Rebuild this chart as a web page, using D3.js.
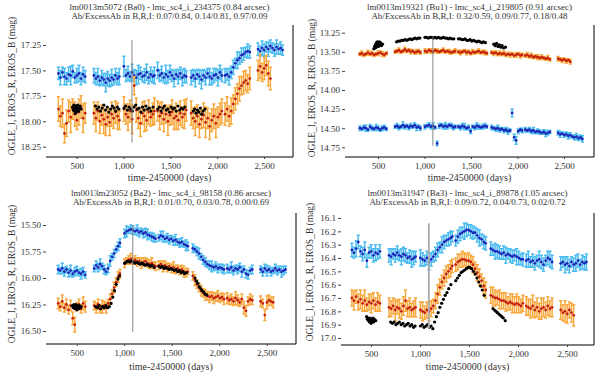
<!DOCTYPE html>
<html><head><meta charset="utf-8">
<script src="https://cdn.jsdelivr.net/npm/d3@7"></script>
<style>body{margin:0;background:#fff}svg{display:block}text{font-family:"Liberation Serif","Times New Roman",serif}</style>
</head><body><svg id="c" width="600" height="375"></svg>
<script>
// ---------- DATA ----------
const eventTime = 1090;
const erosTime = [
305,326,348,370,392,414,436,458,480,502,524,546,568,590,
684,705,726,747,768,789,810,831,852,873,894,915,936,955,
1004,1026,1048,1070,1092,1114,1136,1158,1180,1202,1224,1246,1268,1290,1312,1330,
1364,1386,1408,1430,1452,1474,1496,1518,1540,1562,1584,1606,1628,1650,1670,
1722,1744,1766,1788,1810,1832,1854,1876,1898,1920,1942,1964,1986,2008,2030,2050,
2084,2106,2128,2150,2172,2194,2216,2238,2260,2282,2304,2326,2348,
2436,2458,2480,2502,2524,2546,2568,2590,2612,2634,2656,2678,2698];
const ogleTime = [
455,463,470,476,481,485,489,493,497,501,505,509,514,520,527,536,548,
700,718,736,754,772,790,808,826,844,862,880,898,916,934,950,
1005,1023,1041,1059,1077,1095,1113,1131,1149,1167,1185,1203,1221,1239,1257,1275,1293,1315,
1365,1383,1401,1419,1437,1455,1473,1491,1509,1527,1545,1563,1581,1599,1617,1635,1655,
1745,1760,1775,1790,1805,1820,1835,1850,1870];

// Panel 1: lm0013m5072
const p1B = [
17.53,17.57,17.52,17.56,17.58,17.54,17.55,17.51,17.57,17.55,17.53,17.58,17.54,17.56,
17.55,17.58,17.56,17.60,17.57,17.59,17.62,17.58,17.60,17.57,17.59,17.55,17.58,17.56,
17.46,17.55,17.53,17.56,17.52,17.55,17.57,17.54,17.53,17.56,17.55,17.52,17.57,17.54,17.56,17.55,
17.50,17.55,17.53,17.57,17.54,17.56,17.52,17.55,17.58,17.54,17.56,17.53,17.57,17.55,17.56,
17.57,17.55,17.58,17.54,17.56,17.59,17.55,17.57,17.53,17.56,17.58,17.55,17.54,17.57,17.52,17.55,
17.55,17.54,17.56,17.52,17.47,17.43,17.40,17.38,17.35,17.34,17.32,17.31,17.32,
17.29,17.31,17.28,17.30,17.27,17.29,17.26,17.28,17.30,17.27,17.29,17.28,17.30];
const p1Berr = [
.06,.07,.05,.08,.06,.07,.09,.06,.05,.07,.08,.06,.07,.06,
.07,.06,.08,.05,.07,.06,.09,.07,.06,.08,.05,.07,.06,.08,
.10,.06,.07,.05,.08,.06,.07,.09,.06,.05,.07,.08,.06,.07,.06,.08,
.08,.06,.07,.05,.09,.06,.07,.06,.08,.05,.07,.06,.08,.07,.06,
.07,.06,.08,.05,.07,.09,.06,.07,.05,.08,.06,.07,.06,.08,.07,.06,
.07,.06,.08,.06,.07,.05,.08,.06,.07,.06,.05,.07,.06,
.06,.05,.07,.06,.05,.07,.06,.05,.06,.07,.05,.06,.05];
const p1R = [
17.88,17.95,17.92,18.12,18.02,17.90,17.96,17.88,17.93,17.99,17.91,17.86,17.97,17.92,
17.92,17.97,17.90,18.00,17.94,17.98,18.03,17.96,18.01,17.93,17.97,17.91,17.95,17.99,
17.88,17.93,17.96,17.90,17.98,17.65,17.89,17.97,18.02,17.92,17.95,17.99,17.91,17.96,17.93,17.90,
17.90,17.95,17.92,17.98,17.93,18.00,17.94,17.91,17.97,17.95,17.99,17.92,17.96,17.93,17.89,
17.92,17.97,18.00,17.95,18.03,17.98,17.94,18.01,17.97,18.05,17.99,17.95,18.02,17.96,17.93,17.90,
17.93,17.88,17.95,17.90,17.83,17.78,17.73,17.68,17.65,17.62,17.60,17.63,17.58,
17.50,17.46,17.52,17.48,17.45,17.53,17.58,null,null,null,null,null,null];
const p1Rerr = [
.12,.10,.14,.09,.13,.11,.15,.10,.12,.09,.13,.11,.14,.10,
.11,.13,.09,.12,.10,.14,.11,.09,.13,.12,.10,.11,.13,.09,
.12,.10,.13,.11,.14,.09,.12,.10,.13,.11,.15,.10,.12,.09,.11,.13,
.10,.13,.11,.12,.09,.14,.10,.12,.11,.13,.09,.12,.10,.14,.11,
.12,.10,.14,.11,.13,.09,.12,.15,.10,.13,.11,.12,.14,.10,.11,.12,
.11,.12,.10,.13,.09,.11,.10,.12,.09,.11,.10,.09,.11,
.10,.12,.09,.11,.10,.12,.11,null,null,null,null,null,null];
const p1I = [
17.86,17.89,17.84,17.90,17.87,17.92,17.85,17.88,17.91,17.86,17.89,17.84,17.88,17.90,17.87,17.85,17.88,
17.85,17.88,17.86,17.90,17.87,17.84,17.89,17.86,17.91,17.88,17.85,17.87,17.90,17.86,17.88,
17.87,17.85,17.89,17.86,17.88,17.90,17.86,17.84,17.88,17.87,17.91,17.86,17.89,17.85,17.88,17.87,17.90,17.86,
17.88,17.86,17.90,17.87,17.85,17.89,17.88,17.91,17.86,17.88,17.87,17.90,17.85,17.89,17.87,17.88,17.86,
17.90,17.88,17.92,17.89,17.91,17.87,17.93,17.90,17.88];

// Panel 2: lm0013m19321
const p2B = [
14.50,14.51,14.49,14.50,14.52,14.48,14.50,14.51,14.49,14.50,14.52,14.50,14.49,14.51,
14.48,14.47,14.49,14.48,14.46,14.48,14.47,14.49,14.47,14.48,14.46,14.49,14.48,14.50,
14.48,14.47,14.46,14.48,14.47,14.49,14.70,14.47,14.46,14.48,14.47,14.48,14.46,14.47,14.49,14.48,
14.48,14.49,14.47,14.48,14.50,14.49,14.54,14.48,14.49,14.47,14.48,14.49,14.48,14.47,14.48,
14.49,14.50,14.51,14.50,14.52,14.51,14.53,14.52,14.54,14.53,14.30,14.62,14.66,14.54,14.52,14.53,
14.52,14.53,14.52,14.54,14.53,14.55,14.54,14.55,14.56,14.55,14.57,14.56,14.55,
14.56,14.58,14.57,14.59,14.58,14.60,14.59,14.61,14.62,14.61,14.63,14.62,14.64];
const p2Berr = [
.03,.02,.03,.04,.02,.03,.03,.02,.04,.03,.02,.03,.03,.02,
.02,.03,.03,.02,.04,.03,.02,.03,.03,.02,.03,.04,.02,.03,
.03,.02,.03,.03,.04,.02,.03,.03,.02,.03,.04,.03,.02,.03,.03,.02,
.02,.03,.03,.04,.02,.03,.03,.02,.03,.04,.03,.02,.03,.03,.02,
.03,.02,.03,.04,.03,.02,.03,.03,.04,.02,.05,.04,.05,.03,.02,.03,
.03,.02,.03,.03,.04,.02,.03,.03,.02,.03,.04,.03,.02,
.03,.04,.02,.03,.03,.04,.03,.02,.03,.04,.03,.03,.04];
const p2R = [
13.53,13.52,13.54,13.53,13.51,13.53,13.52,13.54,13.53,13.52,13.51,13.53,13.54,13.52,
13.50,13.49,13.48,13.50,13.49,13.47,13.49,13.48,13.50,13.49,13.51,13.50,13.49,13.51,
13.49,13.50,13.48,13.49,13.50,13.48,13.49,13.50,13.49,13.48,13.50,13.49,13.50,13.51,13.50,13.49,
13.50,13.51,13.50,13.49,13.51,13.50,13.52,13.50,13.51,13.50,13.49,13.51,13.50,13.51,13.52,
13.51,13.52,13.51,13.53,13.52,13.53,13.52,13.54,13.53,13.54,13.53,13.55,13.54,13.53,13.55,13.54,
13.55,13.54,13.56,13.55,13.57,13.56,13.57,13.58,13.57,13.58,13.59,13.58,13.60,
13.59,13.60,13.61,13.60,13.62,13.61,13.63,null,null,null,null,null,null];
const p2Rerr = [
.02,.03,.02,.02,.03,.02,.03,.02,.02,.03,.02,.03,.02,.02,
.02,.02,.03,.02,.02,.03,.02,.02,.03,.02,.02,.03,.02,.02,
.03,.02,.02,.03,.02,.02,.03,.02,.02,.03,.02,.02,.03,.02,.02,.03,
.02,.03,.02,.02,.03,.02,.02,.03,.02,.02,.03,.02,.02,.03,.02,
.02,.03,.02,.02,.03,.02,.03,.02,.02,.03,.02,.02,.03,.02,.03,.02,
.02,.03,.02,.03,.02,.02,.03,.02,.03,.02,.02,.03,.02,
.03,.02,.03,.02,.03,.02,.03,null,null,null,null,null,null];
const p2I = [
13.46,13.43,13.45,13.40,13.44,13.38,13.42,13.37,13.41,13.38,13.43,13.39,13.37,13.41,13.38,13.42,13.40,
13.37,13.36,13.36,13.35,13.35,13.34,13.35,13.34,13.33,13.34,13.33,13.32,13.33,13.32,13.32,
13.31,13.31,13.32,13.31,13.31,13.32,13.31,13.32,13.31,13.32,13.32,13.31,13.32,13.32,13.33,13.32,13.33,13.33,
13.33,13.33,13.34,13.34,13.33,13.35,13.35,13.34,13.36,13.35,13.36,13.37,13.36,13.37,13.38,13.37,13.38,
13.40,13.42,13.39,13.43,13.41,13.44,13.42,13.45,13.44];

// Panel 3: lm0013m23052
const p3B = [
15.92,15.93,15.91,15.94,15.92,15.95,15.93,15.96,15.94,15.93,15.95,15.96,15.94,15.97,
15.91,15.88,15.90,15.87,15.89,15.92,15.94,15.91,15.84,15.80,15.77,15.73,15.70,15.67,
15.58,15.56,15.55,15.54,15.55,15.56,15.55,15.57,15.56,15.58,15.57,15.59,15.60,15.61,15.62,15.63,
15.62,15.60,15.61,15.63,15.62,15.64,15.63,15.65,15.64,15.66,15.67,15.66,15.68,15.69,15.70,
15.72,15.73,15.75,15.77,15.80,15.83,15.85,15.87,15.88,15.89,15.90,15.89,15.91,15.90,15.91,15.92,
15.91,15.92,15.90,15.93,15.91,15.92,15.90,15.94,15.92,15.96,15.97,15.93,15.92,
15.92,15.94,15.91,15.93,15.92,15.94,15.93,15.91,15.93,15.92,15.94,15.93,15.92];
const p3Berr = [
.04,.03,.05,.04,.03,.04,.05,.03,.04,.04,.03,.05,.04,.03,
.03,.04,.04,.05,.03,.04,.03,.04,.05,.03,.04,.03,.04,.04,
.04,.05,.03,.04,.04,.03,.05,.04,.03,.04,.04,.05,.03,.04,.04,.03,
.03,.04,.05,.03,.04,.04,.03,.04,.05,.03,.04,.04,.03,.05,.04,
.04,.03,.04,.05,.03,.04,.04,.03,.04,.05,.03,.04,.04,.03,.04,.04,
.04,.03,.05,.04,.03,.04,.04,.05,.03,.04,.04,.03,.04,
.03,.04,.04,.05,.03,.04,.03,.04,.04,.03,.05,.04,.03];
const p3R = [
16.24,16.27,16.22,16.28,16.25,16.30,16.26,16.38,16.44,16.27,16.25,16.29,16.24,16.27,
16.26,16.28,16.25,16.29,16.27,16.26,16.28,16.24,16.20,16.15,16.09,16.04,15.99,15.96,
15.86,15.84,15.83,15.82,15.84,15.83,15.85,15.84,15.86,15.85,15.84,15.86,15.87,15.86,15.88,15.89,
15.88,15.87,15.89,15.88,15.90,15.89,15.91,15.90,15.92,15.91,15.93,15.92,15.94,15.95,15.94,
15.98,16.02,16.06,16.09,16.12,16.14,16.16,16.17,16.18,16.17,16.19,16.18,16.17,16.19,16.18,16.20,
16.19,16.21,16.20,16.22,16.19,16.21,16.23,16.20,16.28,16.31,16.22,16.20,16.21,
16.22,16.24,16.35,16.23,16.21,16.22,16.23,null,null,null,null,null,null];
const p3Rerr = [
.05,.04,.06,.04,.05,.04,.05,.06,.07,.04,.05,.04,.06,.05,
.04,.05,.05,.04,.06,.04,.05,.04,.05,.04,.05,.04,.05,.04,
.04,.03,.04,.05,.03,.04,.04,.03,.05,.04,.03,.04,.04,.05,.03,.04,
.04,.03,.05,.04,.04,.03,.04,.05,.04,.03,.04,.04,.05,.04,.03,
.04,.05,.04,.04,.05,.04,.05,.04,.05,.04,.05,.04,.05,.04,.04,.05,
.05,.04,.05,.04,.06,.05,.04,.05,.06,.05,.04,.05,.04,
.05,.04,.05,.06,.05,.04,.05,null,null,null,null,null,null];
const p3I = [
16.26,16.28,16.25,16.27,16.29,16.26,16.28,16.25,16.27,16.30,16.26,16.28,16.27,16.29,16.26,16.28,16.27,
16.27,16.28,16.26,16.29,16.27,16.28,16.26,16.28,16.27,16.24,16.18,16.12,16.06,16.01,15.98,
15.86,15.85,15.84,15.85,15.84,15.85,15.86,15.85,15.86,15.87,15.86,15.87,15.88,15.87,15.88,15.89,15.88,15.90,
15.89,15.90,15.89,15.91,15.90,15.91,15.92,15.91,15.92,15.93,15.92,15.94,15.93,15.95,15.94,15.96,15.95,
16.00,16.03,16.05,16.08,16.10,16.12,16.13,16.15,16.16];

// Panel 4: lm0013m31947
const p4B = [
16.34,16.36,16.33,16.28,16.35,16.37,16.34,16.42,16.36,16.35,16.38,16.36,16.37,16.35,
16.38,16.39,16.37,16.38,16.36,16.38,16.39,16.37,16.38,16.40,16.39,16.41,16.40,16.39,
16.40,16.41,16.42,16.40,16.43,16.41,16.39,16.37,16.34,16.32,16.30,16.28,16.27,16.26,16.25,16.24,
16.27,16.24,16.22,16.21,16.20,16.19,16.19,16.20,16.21,16.21,16.23,16.25,16.26,16.28,16.29,
16.33,16.34,16.35,16.35,16.36,16.37,16.36,16.38,16.37,16.38,16.39,16.38,16.39,16.40,16.41,16.41,
16.42,16.41,16.43,16.42,16.44,16.42,16.41,16.43,16.45,16.42,16.40,16.41,16.43,
16.44,16.43,16.45,16.44,16.46,16.43,16.45,16.44,16.42,16.45,16.43,16.44,16.43];
const p4Berr = [
.05,.04,.06,.05,.04,.05,.06,.05,.04,.05,.05,.06,.04,.05,
.05,.06,.04,.05,.05,.04,.06,.05,.05,.04,.05,.06,.05,.04,
.06,.05,.04,.05,.06,.05,.04,.05,.05,.04,.06,.05,.04,.05,.05,.04,
.04,.05,.05,.04,.06,.05,.04,.05,.05,.04,.05,.06,.04,.05,.05,
.05,.04,.06,.05,.05,.04,.05,.06,.04,.05,.05,.04,.06,.05,.04,.05,
.05,.06,.04,.05,.05,.04,.06,.05,.05,.04,.05,.06,.05,
.05,.04,.06,.05,.05,.04,.05,.06,.05,.04,.05,.05,.06];
const p4R = [
16.70,16.72,16.69,16.73,16.71,16.74,16.72,16.75,16.73,16.74,16.72,16.75,16.73,16.74,
16.77,16.78,16.76,16.79,16.77,16.78,16.80,16.76,16.72,16.78,16.77,16.79,16.78,16.77,
16.79,16.80,16.81,16.79,16.80,16.78,16.76,16.72,16.67,16.62,16.58,16.55,16.52,16.50,16.48,16.46,
16.45,16.43,16.42,16.41,16.41,16.42,16.42,16.43,16.45,16.48,16.51,16.54,16.57,16.61,16.64,
16.68,16.69,16.70,16.70,16.71,16.72,16.72,16.73,16.74,16.73,16.74,16.75,16.74,16.75,16.76,16.74,
16.76,16.77,16.78,16.76,16.79,16.77,16.80,16.78,16.77,16.79,16.76,16.78,16.77,
16.79,16.81,16.80,16.82,16.79,16.81,16.83,null,null,null,null,null,null];
const p4Rerr = [
.06,.07,.05,.06,.07,.06,.08,.05,.06,.07,.06,.05,.07,.06,
.07,.06,.06,.08,.05,.07,.06,.07,.08,.06,.07,.05,.06,.07,
.06,.07,.05,.06,.07,.06,.05,.06,.07,.06,.05,.06,.06,.05,.06,.05,
.05,.06,.05,.06,.05,.05,.06,.05,.06,.05,.06,.06,.05,.06,.06,
.06,.07,.06,.05,.07,.06,.06,.07,.05,.06,.07,.06,.07,.06,.05,.06,
.07,.06,.07,.08,.06,.07,.06,.08,.07,.06,.07,.06,.07,
.07,.06,.08,.07,.06,.07,.08,null,null,null,null,null,null];
const p4I = [
16.84,16.86,16.85,16.87,16.86,16.88,16.85,16.87,16.86,16.89,16.86,16.88,16.87,16.85,16.88,16.86,16.87,
16.88,16.89,16.88,16.90,16.89,16.88,16.90,16.89,16.91,16.90,16.89,16.91,16.90,16.92,16.91,
16.91,16.90,16.92,16.91,16.90,16.92,16.91,16.93,16.88,16.84,16.81,16.77,16.74,16.71,16.68,16.66,16.63,16.60,
16.57,16.55,16.53,16.51,16.50,16.49,16.48,16.47,16.47,16.48,16.50,16.52,16.55,16.58,16.61,16.64,16.68,
16.78,16.79,16.80,16.81,16.82,16.83,16.84,16.85,16.87];

const titles1 = [
 "lm0013m5072 (Ba0) - lmc_sc4_i_234375 (0.84 arcsec)",
 "lm0013m19321 (Bu1) - lmc_sc4_i_219805 (0.91 arcsec)",
 "lm0013m23052 (Ba2) - lmc_sc4_i_98158 (0.86 arcsec)",
 "lm0013m31947 (Ba3) - lmc_sc4_i_89878 (1.05 arcsec)"];
const titles2 = [
 "Ab/ExcessAb in B,R,I: 0.07/0.84, 0.14/0.81, 0.97/0.09",
 "Ab/ExcessAb in B,R,I: 0.32/0.59, 0.09/0.77, 0.18/0.48",
 "Ab/ExcessAb in B,R,I: 0.01/0.70, 0.03/0.78, 0.00/0.69",
 "Ab/ExcessAb in B,R,I: 0.09/0.72, 0.04/0.73, 0.02/0.72"];
const xTicks = [500, 1000, 1500, 2000, 2500];
const yTicks1 = [17.25, 17.50, 17.75, 18.00, 18.25];
const yTicks2 = [13.25, 13.50, 13.75, 14.00, 14.25, 14.50, 14.75];
const yTicks3 = [15.50, 15.75, 16.00, 16.25, 16.50];
const yTicks4 = [16.1, 16.2, 16.3, 16.4, 16.5, 16.6, 16.7, 16.8, 16.9, 17.0];
const xTitle = "time-2450000 (days)";
const yTitle = "OGLE_I, EROS_R, EROS_B (mag)";

// ---------- LAYOUT ----------
const panels = [
 {i:0, B:p1B, Be:p1Berr, R:p1R, Re:p1Rerr, I:p1I, yt:yTicks1, fmt:".2f",
  xPix:[76.7,264], yRef:[17.25,18.25], yPix:[45,146.7], fr:{l:46,r:293,t:25,b:157},
  tY:[9.5,19], xtY:181, ylX:12, ylY:86},
 {i:1, B:p2B, Be:p2Berr, R:p2R, Re:p2Rerr, I:p2I, yt:yTicks2, fmt:".2f",
  xPix:[378,564], yRef:[13.25,14.75], yPix:[32.7,147.3], fr:{l:345,r:594,t:25,b:157},
  tY:[9.5,19], xtY:181, ylX:312, ylY:88},
 {i:2, B:p3B, Be:p3Berr, R:p3R, Re:p3Rerr, I:p3I, yt:yTicks3, fmt:".2f",
  xPix:[76.7,266.7], yRef:[15.5,16.5], yPix:[225,331], fr:{l:46,r:296,t:213,b:344},
  tY:[195.5,205], xtY:370, ylX:12, ylY:274},
 {i:3, B:p4B, Be:p4Berr, R:p4R, Re:p4Rerr, I:p4I, yt:yTicks4, fmt:".1f",
  xPix:[371,567], yRef:[16.1,17.0], yPix:[218,338], fr:{l:341,r:594,t:213,b:345},
  tY:[195.5,205], xtY:370, ylX:310, ylY:272}
];

const FONT = '"Liberation Serif","Times New Roman",serif';
const svg = d3.select("#c");

function drawErr(g, x, y, times, mags, errs, errCol, ptCol) {
  const data = times.map((t, k) => ({t, m: mags[k], e: errs[k]}))
    .filter(d => d.m != null && isFinite(d.m));
  g.append("g").selectAll("path").data(data).join("path")
    .attr("d", d => {
      const x0 = x(d.t), y1 = y(d.m - d.e), y2 = y(d.m + d.e);
      return `M${x0},${y1}V${y2}M${x0-1.6},${y1}h3.2M${x0-1.6},${y2}h3.2`;
    })
    .attr("fill", "none").attr("stroke", errCol).attr("stroke-width", 1.5);
  g.append("g").selectAll("circle").data(data).join("circle")
    .attr("cx", d => x(d.t)).attr("cy", d => y(d.m)).attr("r", 1.4)
    .attr("fill", ptCol);
}

panels.forEach(p => {
  const g = svg.append("g");
  const x = d3.scaleLinear().domain([500, 2500]).range(p.xPix);
  const y = d3.scaleLinear().domain(p.yRef).range(p.yPix);
  const F = p.fr;

  drawErr(g, x, y, erosTime, p.B, p.Be, "#4cbcf0", "#1a26b8");
  drawErr(g, x, y, erosTime, p.R, p.Re, "#f7a93e", "#c4200c");
  const od = ogleTime.map((t, k) => ({t, m: p.I[k]})).filter(d => d.m != null);
  g.append("g").selectAll("circle").data(od).join("circle")
    .attr("cx", d => x(d.t)).attr("cy", d => y(d.m)).attr("r", 1.6).attr("fill", "#000");

  // event line spanning the data extent
  const vals = [];
  erosTime.forEach((t, k) => {
    if (p.B[k] != null) vals.push(p.B[k] - p.Be[k], p.B[k] + p.Be[k]);
    if (p.R[k] != null) vals.push(p.R[k] - p.Re[k], p.R[k] + p.Re[k]);
  });
  p.I.forEach(v => vals.push(v));
  const ext = d3.extent(vals);
  g.append("line").attr("x1", x(eventTime)).attr("x2", x(eventTime))
    .attr("y1", y(ext[0])).attr("y2", y(ext[1]))
    .attr("stroke", p.i === 3 ? "#aaa" : "#888").attr("stroke-width", p.i === 3 ? 1.8 : 1);

  // frame: bottom + right
  g.append("path").attr("d", `M${F.l},${F.b}H${F.r}V${F.t}`)
    .attr("fill", "none").attr("stroke", "#000").attr("stroke-width", 1);

  // axes
  const ya = g.append("g").attr("transform", `translate(${F.l},0)`)
    .call(d3.axisLeft(y).tickValues(p.yt).tickFormat(d3.format(p.fmt)).tickSize(3).tickPadding(2));
  const xa = g.append("g").attr("transform", `translate(0,${F.b})`)
    .call(d3.axisBottom(x).tickValues(xTicks).tickFormat(d3.format(",")).tickSize(2).tickPadding(4));
  [ya, xa].forEach(a => {
    a.select(".domain").remove();
    a.attr("font-family", null).attr("font-size", null);
    a.selectAll("text").style("font-family", FONT).style("font-size", "9px").attr("fill", "#333");
    a.selectAll("line").attr("stroke", "#444");
  });

  const cx = (F.l + F.r) / 2;
  const txt = (xx, yy, s, size) => g.append("text").attr("x", xx).attr("y", yy)
    .attr("text-anchor", "middle").style("font-family", FONT).style("font-size", size + "px")
    .attr("fill", "#333").text(s);
  txt(cx, p.tY[0], titles1[p.i], 9);
  txt(cx, p.tY[1], titles2[p.i], 9);
  txt(cx, p.xtY, xTitle, 10);
  g.append("text").attr("transform", `translate(${p.ylX},${p.ylY}) rotate(-90)`)
    .attr("text-anchor", "middle").attr("dy", "0.35em")
    .style("font-family", FONT).style("font-size", "9.5px").attr("fill", "#333").text(yTitle);
});
</script></body></html>
